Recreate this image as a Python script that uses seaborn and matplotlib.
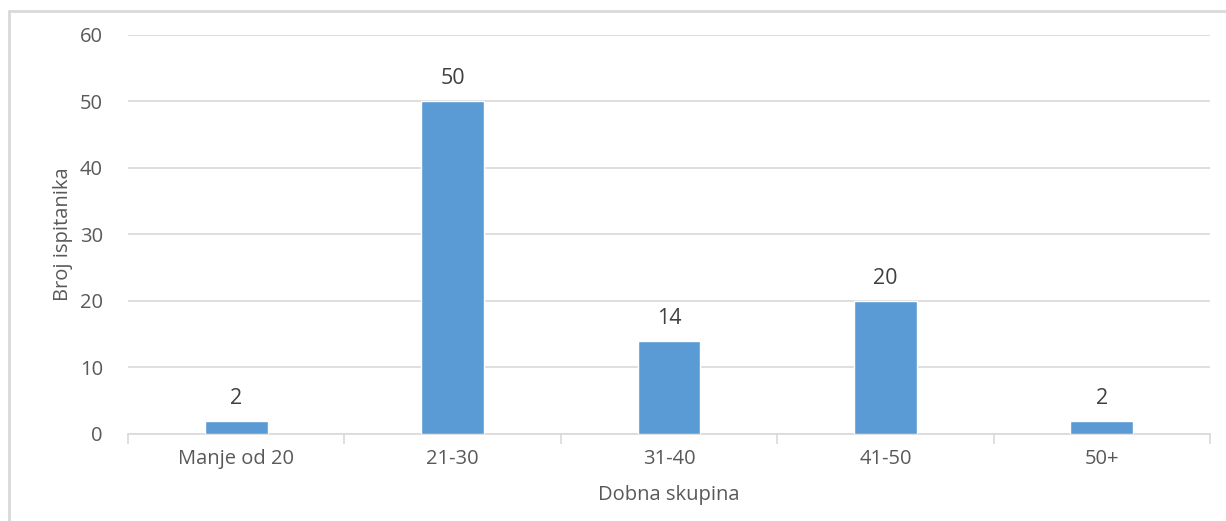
import matplotlib
matplotlib.use('Agg')
import matplotlib.pyplot as plt
import seaborn as sns
import pandas as pd

groups = ['Manje od 20', '21-30', '31-40', '41-50', '50+']
counts = [2, 50, 14, 20, 2]

sns.set_theme(style='white')
plt.rcParams['font.family'] = ['Open Sans', 'DejaVu Sans']

df = pd.DataFrame({'group': groups, 'count': counts})

fig = plt.figure(figsize=(12.26, 5.21), dpi=100)
ax = fig.add_axes([0.1044, 0.167, 0.8826, 0.766])

sns.barplot(data=df, x='group', y='count', color='#5B9BD5', saturation=1,
            width=0.29, ax=ax, zorder=3)

ax.set_ylim(0, 60)
ax.set_xlim(-0.5, len(groups) - 0.5)
ax.set_yticks(range(0, 61, 10))
ax.yaxis.grid(True, color='#D9D9D9', linewidth=1.2, zorder=0)
ax.xaxis.grid(False)
for s in ['top', 'right', 'left']:
    ax.spines[s].set_visible(False)
ax.spines['bottom'].set_color('#D9D9D9')
ax.spines['bottom'].set_linewidth(1.2)

# tick marks between categories
ax.set_xticks([i - 0.5 for i in range(len(groups) + 1)], minor=True)
ax.tick_params(axis='x', which='minor', length=7, color='#D9D9D9', width=1.2, bottom=True)
ax.tick_params(axis='x', which='major', length=0, pad=11, labelsize=14.5, labelcolor='#595959')
ax.tick_params(axis='y', length=0, pad=18, labelsize=14.5, labelcolor='#595959')

for i, v in enumerate(counts):
    ax.text(i, v + 1.8, str(v), ha='center', va='bottom', fontsize=15.5, color='#404040')

ax.set_xlabel('Dobna skupina', fontsize=14.5, color='#595959', labelpad=11)
ax.set_ylabel('Broj ispitanika', fontsize=14.5, color='#595959', labelpad=5)

# outer frame lines (left and top)
fig.add_artist(plt.Line2D([0.0075, 0.0075], [0, 0.979], transform=fig.transFigure,
                          color='#D9D9D9', linewidth=2))
fig.add_artist(plt.Line2D([0.0075, 1.0], [0.979, 0.979], transform=fig.transFigure,
                          color='#D9D9D9', linewidth=2))

fig.savefig('out.png', dpi=100)
